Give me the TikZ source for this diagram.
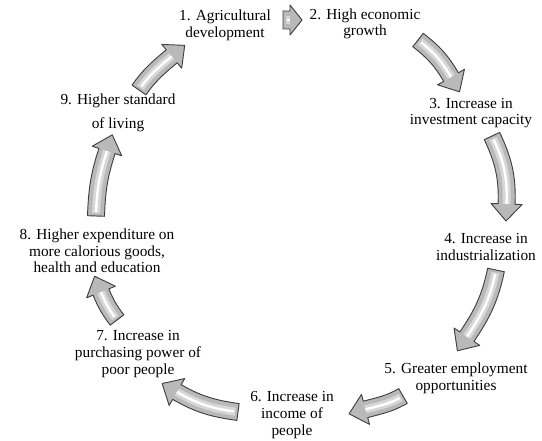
\documentclass[tikz,border=0pt]{standalone}
\usepackage{fontspec}
\setmainfont{Liberation Serif}
\usepackage{tikz}
\usetikzlibrary{%
	calc%
}

% sizes of the block arrows
\newcommand{\cycbody}{8.5}
\newcommand{\cychead}{15.5}
\newcommand{\cyclen}{17}
% curved block arrow: tail, tail angle, head base, head angle
\newcommand{\cyclearrow}[4]{%
	\pgfmathsetmacro{\cycin}{#4+180}
	\filldraw[blockarrow] ($(#1)+(#2+90:\cycbody)$) to[out=#2,in=\cycin] ($(#3)+(#4+90:\cycbody)$)
		-- ($(#3)+(#4+90:\cychead)$) -- ($(#3)+(#4:\cyclen)$) -- ($(#3)+(#4-90:\cychead)$)
		-- ($(#3)+(#4-90:\cycbody)$) to[out=\cycin,in=#2] ($(#1)+(#2-90:\cycbody)$) -- cycle;
	\draw[arrowshine] (#1) to[out=#2,in=\cycin] (#3);
	\draw[arrowglint] (#1) to[out=#2,in=\cycin] (#3);
}

\begin{document}
\begin{tikzpicture}[x=0.75pt,y=0.75pt,
		stage/.style={align=center, inner sep=0pt, font=\fontsize{11.5}{12.5}\selectfont},
		blockarrow/.style={fill=gray!55, draw=black!75, line width=0.7pt, line join=round},
		arrowshine/.style={draw=gray!20, line width=6pt, opacity=0.7, shorten <=2pt},
		arrowglint/.style={draw=white, line width=1.8pt, shorten <=3pt}]
	\useasboundingbox (0,0) rectangle (542,440);

	% Nodes
	\node[stage] (agri) at (225,415) {1. Agricultural\\development};
	\node[stage] (growth) at (365,416) {2. High economic\\growth};
	\node[stage] (invest) at (471,327) {3. Increase in\\investment capacity};
	\node[stage] (industry) at (486,193) {4. Increase in\\industrialization};
	\node[stage] (employ) at (456,62) {5. Greater employment\\opportunities};
	\node[stage] (income) at (292,25) {6. Increase in\\income of\\people};
	\node[stage] (power) at (138,86) {7. Increase in\\purchasing power of\\poor people};
	\node[stage] (spend) at (97,189) {8. Higher expenditure on\\more calorious goods,\\health and education};
	\node[stage] (living) at (118,327) {9. Higher standard\\[5pt]of living};

	% Arrow ends
	\coordinate (t12) at (283,420); \coordinate (h12) at (290,420);
	\coordinate (t23) at (418,400); \coordinate (h23) at (451,362.9);
	\coordinate (t34) at (492,304); \coordinate (h34) at (506.6,236);
	\coordinate (t45) at (496,170); \coordinate (h45) at (466.9,103.3);
	\coordinate (t56) at (403,44); \coordinate (h56) at (365.5,30.6);
	\coordinate (t67) at (238,28); \coordinate (h67) at (176.9,48);
	\coordinate (t78) at (117,120); \coordinate (h78) at (101,148);
	\coordinate (t89) at (96,224); \coordinate (h89) at (107,289);
	\coordinate (t91) at (139,350); \coordinate (h91) at (171.7,383.7);

	% Arrows
	{\renewcommand{\cycbody}{9}\renewcommand{\cychead}{15}\renewcommand{\cyclen}{12}
	\cyclearrow{t12}{0}{h12}{0}}
	\cyclearrow{t23}{322}{h23}{300}
	\cyclearrow{t34}{295}{h34}{268}
	\cyclearrow{t45}{258}{h45}{236}
	\cyclearrow{t56}{210}{h56}{195}
	\cyclearrow{t67}{172}{h67}{150}
	\cyclearrow{t78}{127}{h78}{112}
	\cyclearrow{t89}{88}{h89}{72}
	\cyclearrow{t91}{55}{h91}{40}
\end{tikzpicture}
\end{document}
